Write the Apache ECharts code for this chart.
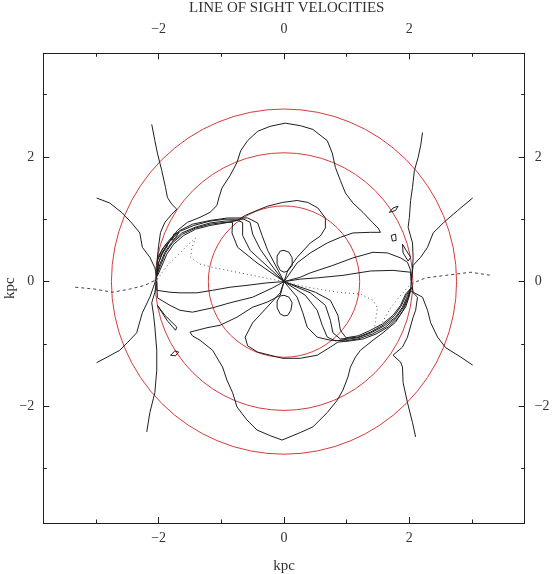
<!DOCTYPE html>
<html><head><meta charset="utf-8">
<script src="https://cdn.jsdelivr.net/npm/echarts@6/dist/echarts.min.js"></script>
<style>html,body{margin:0;padding:0;background:#fff}#c{width:557px;height:574px}</style>
</head><body><div id="c"></div>
<script>
// ---- axis ticks ----
const xMajorTicks = [-2, 0, 2];
const xMinorTicks = [-3, -1, 1, 3];
const yMajorTicks = [-2, 0, 2];
const yMinorTicks = [-3, -1, 1, 3];

// ---- reference circles (radius, kpc) ----
const circleRadii = [1.21, 2.06, 2.76];

// ---- dotted / dashed contour ----
const dashLeft = [[-3.33,-0.09],[-3.02,-0.12],[-2.74,-0.17],[-2.46,-0.12],[-2.22,-0.06],[-2.02,0.04]];
const dotInner = [[-2.02,0.04],[-1.86,0.26],[-1.70,0.42],[-1.54,0.58],[-1.41,0.70],[-1.47,0.54],[-1.49,0.39],[-1.34,0.28],[-1.10,0.22],[-0.70,0.14],[-0.35,0.07],[0,0],[0.37,-0.09],[0.85,-0.17],[1.22,-0.20],[1.42,-0.30],[1.49,-0.42],[1.46,-0.62],[1.44,-0.78],[1.57,-0.65],[1.70,-0.42],[1.86,-0.22],[2.02,-0.04]];
const dashRight = [[2.02,-0.04],[2.26,0.06],[2.58,0.10],[2.98,0.15],[3.30,0.10]];

// ---- solid contours ----
const wingLeft = [[-2.99,1.34],[-2.78,1.26],[-2.58,1.10],[-2.43,0.94],[-2.30,0.78],[-2.26,0.55],[-2.14,0.39],[-2.06,0.22],[-2.03,0.09],[-2.06,-0.02],[-2.14,-0.25],[-2.26,-0.50],[-2.35,-0.82],[-2.50,-0.98],[-2.62,-1.10],[-2.82,-1.21],[-2.99,-1.30]];
const wingRight = [[3.01,1.34],[2.77,1.14],[2.54,0.94],[2.38,0.78],[2.29,0.55],[2.18,0.39],[2.06,0.26],[2.03,0.02],[2.06,-0.17],[2.21,-0.25],[2.29,-0.46],[2.34,-0.66],[2.45,-0.89],[2.58,-1.06],[2.82,-1.21],[3.01,-1.34]];
const vertLeft = [[-2.11,2.52],[-2.06,2.26],[-2.02,2.06],[-1.95,1.78],[-1.89,1.51],[-1.86,1.35],[-1.79,1.24],[-1.71,1.16],[-1.79,1.08],[-1.90,0.95],[-1.97,0.79],[-2.00,0.58],[-2.02,0.38],[-2.03,0.18],[-2.03,0.02],[-2.06,-0.17],[-2.11,-0.34],[-2.08,-0.54],[-2.06,-0.73],[-2.03,-1.10],[-2.03,-1.42],[-2.06,-1.78],[-2.14,-2.10],[-2.19,-2.41]];
const vertRight = [[2.21,2.39],[2.18,2.18],[2.14,1.99],[2.08,1.78],[2.05,1.51],[2.02,1.30],[2.00,1.03],[1.98,0.87],[2.05,0.62],[2.06,0.39],[2.05,0.18],[2.03,0.02],[2.02,-0.14],[2.13,-0.25],[2.10,-0.46],[2.06,-0.57],[1.97,-0.89],[1.89,-1.05],[1.74,-1.18],[1.86,-1.29],[1.89,-1.37],[1.90,-1.62],[1.97,-1.94],[2.05,-2.26],[2.10,-2.49]];
const upperBig = [[0,0],[0.21,0.30],[0.42,0.46],[0.69,0.62],[0.90,0.71],[1.10,0.78],[1.38,0.79],[1.54,0.79],[1.50,0.86],[1.41,0.95],[1.26,1.11],[1.10,1.26],[0.98,1.42],[0.90,1.62],[0.82,1.83],[0.77,2.06],[0.69,2.26],[0.46,2.44],[0.26,2.50],[0.02,2.54],[-0.22,2.49],[-0.42,2.41],[-0.58,2.26],[-0.69,2.10],[-0.75,1.91],[-0.86,1.70],[-0.99,1.50],[-1.04,1.34],[-1.07,1.22],[-1.18,1.11],[-1.34,1.03],[-1.54,0.95],[-1.70,0.82],[-1.82,0.66],[-1.94,0.47],[-2.00,0.30],[-2.03,0.10]];
const lowerBig = [[0,0],[-0.06,-0.22],[-0.27,-0.33],[-0.50,-0.41],[-0.75,-0.57],[-1.02,-0.70],[-1.23,-0.74],[-1.50,-0.81],[-1.46,-0.87],[-1.34,-0.94],[-1.14,-1.10],[-0.98,-1.37],[-0.91,-1.58],[-0.82,-1.78],[-0.75,-2.01],[-0.59,-2.22],[-0.43,-2.38],[-0.22,-2.47],[-0.03,-2.54],[0.26,-2.42],[0.46,-2.33],[0.69,-2.10],[0.85,-1.90],[0.94,-1.74],[1.02,-1.53],[1.06,-1.37],[1.14,-1.21],[1.22,-1.10],[1.42,-0.94],[1.58,-0.82],[1.78,-0.65],[1.90,-0.46],[1.98,-0.26],[2.03,-0.10]];
const upperPetal = [[0,0],[0.06,0.18],[0.21,0.39],[0.42,0.62],[0.58,0.73],[0.66,0.86],[0.66,1.02],[0.54,1.18],[0.38,1.27],[0.21,1.30],[-0.02,1.27],[-0.26,1.21],[-0.46,1.13],[-0.62,1.06],[-0.75,0.98],[-0.94,0.94],[-1.18,0.90],[-1.41,0.84],[-1.60,0.74],[-1.76,0.60],[-1.87,0.44],[-1.95,0.25],[-2.02,0.09]];
const lowerPetal = [[0,0],[-0.06,-0.18],[-0.27,-0.41],[-0.50,-0.66],[-0.62,-0.89],[-0.58,-1.03],[-0.42,-1.13],[-0.22,-1.18],[-0.02,-1.23],[0.26,-1.23],[0.53,-1.18],[0.74,-1.05],[0.86,-0.97],[1.06,-0.95],[1.26,-0.92],[1.47,-0.84],[1.66,-0.73],[1.82,-0.58],[1.94,-0.41],[2.00,-0.23],[2.03,-0.09]];
const bundleUL0 = [[0,0],[-0.43,0.30],[-0.74,0.55],[-0.83,0.78],[-0.82,0.95],[-0.94,0.95],[-1.18,0.92],[-1.41,0.86],[-1.62,0.76],[-1.78,0.62],[-1.89,0.46],[-1.97,0.26],[-2.03,0.10]];
const bundleUL1 = [[0,0],[-0.27,0.25],[-0.54,0.50],[-0.66,0.74],[-0.66,0.95],[-0.74,0.98],[-0.94,0.97],[-1.18,0.94],[-1.42,0.87],[-1.63,0.78],[-1.79,0.63],[-1.90,0.47],[-1.98,0.28],[-2.03,0.10]];
const bundleUL2 = [[0,0],[-0.19,0.25],[-0.38,0.52],[-0.50,0.76],[-0.54,0.95],[-0.64,1.00],[-0.94,1.00],[-1.18,0.97],[-1.44,0.90],[-1.65,0.81],[-1.81,0.66],[-1.92,0.50],[-2.00,0.31],[-2.03,0.10]];
const bundleUL3 = [[0,0],[-0.13,0.25],[-0.26,0.50],[-0.35,0.74],[-0.42,0.94],[-0.58,1.02],[-0.90,1.02],[-1.18,0.98],[-1.46,0.92],[-1.66,0.82],[-1.82,0.68],[-1.94,0.52],[-2.02,0.33],[-2.03,0.10]];
const bundleLR0 = [[0,0],[0.21,-0.25],[0.30,-0.50],[0.37,-0.73],[0.53,-0.89],[0.74,-0.94],[0.98,-0.95],[1.18,-0.92],[1.41,-0.84],[1.62,-0.73],[1.79,-0.58],[1.90,-0.42],[1.98,-0.25],[2.03,-0.10]];
const bundleLR1 = [[0,0],[0.34,-0.22],[0.53,-0.46],[0.61,-0.70],[0.69,-0.89],[0.82,-0.95],[1.18,-0.90],[1.39,-0.82],[1.60,-0.71],[1.78,-0.57],[1.89,-0.41],[1.97,-0.23],[2.03,-0.10]];
const bundleLR2 = [[0,0],[0.42,-0.18],[0.66,-0.38],[0.74,-0.62],[0.78,-0.82],[0.90,-0.92],[1.18,-0.89],[1.38,-0.81],[1.58,-0.70],[1.76,-0.55],[1.87,-0.39],[1.95,-0.22],[2.03,-0.10]];
const bundleLR3 = [[0,0],[0.50,-0.17],[0.74,-0.30],[0.86,-0.54],[0.90,-0.78],[0.99,-0.90],[1.18,-0.87],[1.36,-0.79],[1.57,-0.68],[1.74,-0.54],[1.86,-0.38],[1.94,-0.20],[2.03,-0.10]];
const horizRight1 = [[0,0],[0.26,0.04],[0.53,0.06],[0.94,0.10],[1.38,0.17],[1.74,0.18],[2.02,0.15],[2.03,0.02]];
const horizRight2 = [[0,0],[0.26,0.07],[0.42,0.14],[0.78,0.26],[1.10,0.38],[1.42,0.47],[1.65,0.46],[1.86,0.38],[1.97,0.31],[2.02,0.18],[2.03,0.02]];
const horizLeft1 = [[-2.03,0.00],[-2.03,-0.14],[-1.82,-0.17],[-1.66,-0.18],[-1.39,-0.18],[-1.14,-0.14],[-0.86,-0.09],[-0.59,-0.06],[-0.27,-0.02],[0,0]];
const horizLeft2 = [[-2.03,0.00],[-2.02,-0.26],[-1.82,-0.38],[-1.66,-0.46],[-1.46,-0.49],[-1.14,-0.42],[-0.86,-0.34],[-0.50,-0.25],[-0.18,-0.10],[0,0]];
const ovalUp = [[0,0.50],[0.08,0.47],[0.13,0.38],[0.13,0.26],[0.06,0.17],[0,0.15],[-0.06,0.18],[-0.11,0.28],[-0.11,0.41],[-0.06,0.49],[0,0.50]];
const ovalDown = [[0,-0.22],[0.08,-0.25],[0.13,-0.34],[0.11,-0.46],[0.06,-0.54],[0,-0.55],[-0.06,-0.52],[-0.11,-0.42],[-0.11,-0.31],[-0.06,-0.23],[0,-0.22]];
const islandUR1 = [[1.68,1.11],[1.74,1.18],[1.82,1.21],[1.78,1.14],[1.68,1.11]];
const islandUR2 = [[1.71,0.74],[1.78,0.76],[1.79,0.66],[1.73,0.65],[1.71,0.74]];
const islandUR3 = [[1.89,0.60],[1.95,0.50],[2.02,0.39],[1.98,0.33],[1.90,0.46],[1.89,0.60]];
const islandLL1 = [[-1.81,-1.18],[-1.74,-1.11],[-1.68,-1.13],[-1.73,-1.19],[-1.81,-1.18]];
const islandLL2 = [[-2.02,-0.38],[-1.90,-0.54],[-1.71,-0.73],[-1.73,-0.78],[-1.86,-0.63],[-2.02,-0.38]];
const islandUL1 = [[-1.79,0.66],[-1.76,0.76],[-1.68,0.79],[-1.73,0.70],[-1.79,0.66]];
const islandUL2 = [[-2.02,0.38],[-1.95,0.50],[-1.87,0.62],[-1.86,0.57],[-1.97,0.41],[-2.02,0.38]];

const solidContours = [wingLeft, wingRight, vertLeft, vertRight, upperBig, lowerBig, upperPetal, lowerPetal,
  bundleUL0, bundleUL1, bundleUL2, bundleUL3, bundleLR0, bundleLR1, bundleLR2, bundleLR3,
  horizRight1, horizRight2, horizLeft1, horizLeft2, ovalUp, ovalDown,
  islandUR1, islandUR2, islandUR3, islandLL1, islandLL2, islandUL1, islandUL2];

const FONT = 'Liberation Serif';
const INK = '#1f1f1f';
const fmt = v => (v < 0 ? '\u2212' : '') + Math.abs(v);

const chart = echarts.init(document.getElementById('c'), null, {renderer: 'canvas'});
const gridPos = {left: 43.3, right: 32.3, top: 53.3, bottom: 51, containLabel: false, outerBoundsMode: 'none'};
const X_MIN = -3.84, X_MAX = 3.84, Y_MIN = -3.87, Y_MAX = 3.66;

function mainAxis(pos, isX, ticks, labelMargin, withName, nameGap) {
  return {
    gridIndex: 0, type: 'value', position: pos,
    min: isX ? X_MIN : Y_MIN, max: isX ? X_MAX : Y_MAX,
    axisLine: {show: true, onZero: false, lineStyle: {color: INK, width: 1}},
    axisTick: {show: true, inside: true, length: 6, customValues: ticks, lineStyle: {color: INK, width: 1}},
    axisLabel: {show: true, customValues: ticks, formatter: fmt, margin: labelMargin,
      color: '#333', fontFamily: FONT, fontSize: 14},
    splitLine: {show: false},
    name: withName ? 'kpc' : '', nameLocation: 'middle', nameGap: nameGap, nameMoveOverlap: false,
    nameTextStyle: {fontFamily: FONT, fontSize: 15, color: '#333'}
  };
}
function minorAxis(pos, isX, ticks) {
  return {
    gridIndex: 1, type: 'value', position: pos,
    min: isX ? X_MIN : Y_MIN, max: isX ? X_MAX : Y_MAX,
    axisLine: {show: false, onZero: false},
    axisTick: {show: true, inside: true, length: 3.5, customValues: ticks, lineStyle: {color: INK, width: 1}},
    axisLabel: {show: false}, splitLine: {show: false}
  };
}

const series = [];
series.push({
  type: 'custom', xAxisIndex: 0, yAxisIndex: 0, silent: true,
  data: circleRadii.map(r => [r, 0]),
  renderItem: (params, api) => {
    const r = api.value(0);
    const c = api.coord([0, 0]);
    const ex = api.coord([r, 0]);
    const ey = api.coord([0, r]);
    const rr = ((ex[0] - c[0]) + (c[1] - ey[1])) / 2;
    return {type: 'circle', shape: {cx: c[0], cy: c[1], r: rr},
      style: {fill: 'none', stroke: '#d43c3c', lineWidth: 1}};
  }
});
solidContours.forEach(d => series.push({
  type: 'line', xAxisIndex: 0, yAxisIndex: 0, data: d, showSymbol: false, symbol: 'none',
  silent: true, lineStyle: {color: INK, width: 1}
}));
[dashLeft, dashRight].forEach(d => series.push({
  type: 'line', xAxisIndex: 0, yAxisIndex: 0, data: d, showSymbol: false, symbol: 'none',
  silent: true, lineStyle: {color: '#444', width: 1, type: [3, 3]}
}));
series.push({
  type: 'line', xAxisIndex: 0, yAxisIndex: 0, data: dotInner, showSymbol: false, symbol: 'none',
  silent: true, lineStyle: {color: '#555', width: 1, type: [1, 3]}
});

chart.setOption({
  animation: false,
  backgroundColor: '#fff',
  title: {text: 'LINE OF SIGHT VELOCITIES', left: 184, top: -4,
    textStyle: {fontFamily: FONT, fontWeight: 'normal', fontSize: 15, color: '#333'}},
  grid: [Object.assign({}, gridPos), Object.assign({}, gridPos)],
  xAxis: [
    mainAxis('bottom', true, xMajorTicks, 8, true, 36),
    mainAxis('top', true, xMajorTicks, 17, false, 0),
    minorAxis('bottom', true, xMinorTicks),
    minorAxis('top', true, xMinorTicks)
  ],
  yAxis: [
    mainAxis('left', false, yMajorTicks, 9, true, 26),
    mainAxis('right', false, yMajorTicks, 10, false, 0),
    minorAxis('left', false, yMinorTicks),
    minorAxis('right', false, yMinorTicks)
  ],
  series: series
});
</script>
</body></html>
